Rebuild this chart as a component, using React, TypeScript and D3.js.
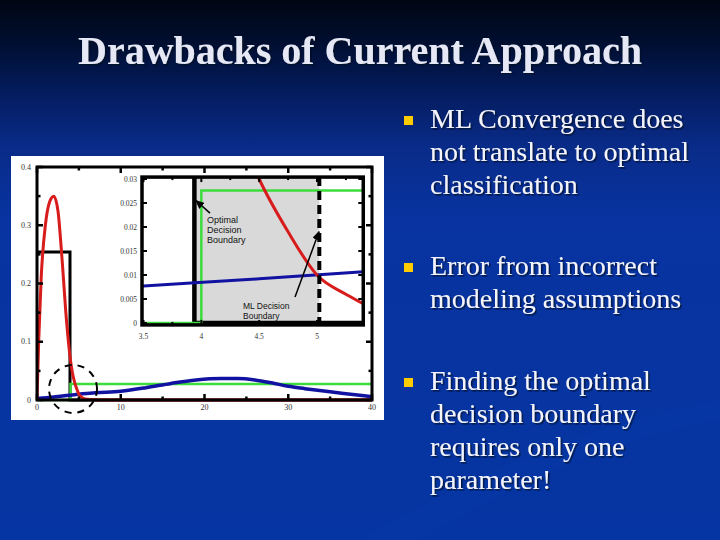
import React from 'react';
import * as d3 from 'd3';

// ---------- data ----------
const titleText = 'Drawbacks of Current Approach';
const bulletGroups: string[][] = [
  ['ML Convergence does', 'not translate to optimal', 'classification'],
  ['Error from incorrect', 'modeling assumptions'],
  ['Finding the optimal', 'decision boundary', 'requires only one', 'parameter!'],
];

// main plot axes
const mainXTicks = [0, 10, 20, 30, 40];
const mainXMinor = [5, 15, 25, 35];
const mainYTicks = [0, 0.1, 0.2, 0.3, 0.4];
const mainYMinor = [0.05, 0.15, 0.25, 0.35];

// inset axes
const insetXTicks = [3.5, 4, 4.5, 5];
const insetXMinor = [3.75, 4.25, 4.75, 5.25];
const insetYTicks = [0, 0.005, 0.01, 0.015, 0.02, 0.025, 0.03];

// red: class-1 Gaussian model
const redX = [0, 0.2, 0.5, 1, 1.5, 2, 2.5, 3, 3.5, 4, 4.25, 4.5, 4.75, 5, 5.25, 5.5, 6, 7, 8, 40];
const redY = [0, 0.1, 0.21, 0.3, 0.34, 0.35, 0.325, 0.24, 0.14, 0.068, 0.045, 0.03, 0.019, 0.01, 0.006, 0.003, 0.0012, 0.0003, 0, 0];

// blue: class-2 Gaussian model
const blueX = [0, 2, 3.5, 4.5, 5.4, 7, 10, 13, 16, 19, 22, 24, 26, 28, 30, 32, 35, 38, 40];
const blueY = [0.0025, 0.0052, 0.0077, 0.0092, 0.0107, 0.0125, 0.015, 0.021, 0.0285, 0.0345, 0.037, 0.037, 0.0345, 0.0295, 0.0235, 0.0195, 0.014, 0.009, 0.0055];

// black: class-1 true (uniform) density
const blackX = [0, 3.94, 40];
const blackY = [0.254, 0, 0];

// green: class-2 true (uniform) density
const greenX = [0, 4.0, 40];
const greenY = [0, 0.0276, 0.0276];

const optimalBoundary = 3.94;
const mlBoundary = 5.02;
const circleCenter: [number, number] = [4.3, 0.019];

const optimalArrow = { from: [4.075, 0.0229], to: [3.954, 0.0255] };
const mlArrow = { from: [4.81, 0.0054], to: [5.017, 0.019] };
const optimalLabel = ['Optimal', 'Decision', 'Boundary'];
const mlLabel = ['ML Decision', 'Boundary'];

// ---------- helpers ----------
const fmt = (v: number) => String(+v.toFixed(3));

function mkLine(xs: number[], ys: number[], xS: any, yS: any, curve: any) {
  return d3
    .line<number>()
    .x((i) => xS(xs[i]))
    .y((i) => yS(ys[i]))
    .curve(curve)(xs.map((_, i) => i)) as string;
}

export default function App() {
  const W = 720;
  const H = 540;

  // main plot scales
  const xM = d3.scaleLinear().domain([0, 40]).range([37, 372]);
  const yM = d3.scaleLinear().domain([0, 0.4]).range([400, 167]);

  // inset scales
  const xI = d3.scaleLinear().domain([3.5, 5]).range([143.5, 317]);
  const yI = d3.scaleLinear().domain([0, 0.03]).range([323, 179]);
  const inL = xI(3.5) - 1.5;
  const inR = xI(5.4);
  const inT = yI(0.0304);
  const inB = yI(-0.0004);

  const serif = '"Liberation Serif", "Times New Roman", serif';
  const sans = '"Liberation Sans", Arial, sans-serif';

  const bulletBase = [128, 275, 390];
  const lineGap = 33;

  return (
    <svg
      width={W}
      height={H}
      viewBox={`0 0 ${W} ${H}`}
      style={{ position: 'fixed', left: 0, top: 0 }}
    >
      <defs>
        <linearGradient id="bg" x1="0" y1="0" x2="0" y2="1">
          <stop offset="0" stopColor="#000612" />
          <stop offset="0.08" stopColor="#000e30" />
          <stop offset="0.17" stopColor="#041c5e" />
          <stop offset="0.27" stopColor="#092b88" />
          <stop offset="0.4" stopColor="#0833a0" />
          <stop offset="1" stopColor="#0535a2" />
        </linearGradient>
        <filter id="shadow" x="-5%" y="-20%" width="110%" height="150%">
          <feDropShadow dx="1.5" dy="1.5" stdDeviation="0.6" floodColor="#000820" floodOpacity="0.75" />
        </filter>
        <clipPath id="mainClip">
          <rect x={xM(0)} y={yM(0.4)} width={xM(40) - xM(0)} height={yM(0) - yM(0.4) + 2} />
        </clipPath>
        <clipPath id="insetClip">
          <rect x={inL} y={inT} width={inR - inL} height={inB - inT} />
        </clipPath>
        <marker
          id="arrow"
          markerUnits="userSpaceOnUse"
          markerWidth={9}
          markerHeight={8}
          refX={8}
          refY={4}
          orient="auto"
        >
          <path d="M0,0 L9,4 L0,8 Z" fill="#000" />
        </marker>
      </defs>

      {/* background */}
      <rect x={0} y={0} width={W} height={H} fill="url(#bg)" />
      <path
        d="M360,540 C480,470 600,420 720,400 L720,420 C610,440 500,490 420,540 Z"
        fill="#0a3aa8"
        opacity={0.35}
      />

      {/* title */}
      <text
        x={W / 2}
        y={64}
        textAnchor="middle"
        fontFamily={serif}
        fontWeight="bold"
        fontSize={40}
        fill="#e6e8f6"
        textLength={564}
        lengthAdjust="spacingAndGlyphs"
        filter="url(#shadow)"
      >
        {titleText}
      </text>

      {/* bullets */}
      {bulletGroups.map((lines, g) => (
        <g key={g}>
          <rect x={404} y={bulletBase[g] - 12} width={9} height={9} fill="#ffcc00" />
          {lines.map((t, i) => (
            <text
              key={i}
              x={430}
              y={bulletBase[g] + i * lineGap}
              fontFamily={serif}
              fontSize={28}
              fill="#f4f4fc"
              filter="url(#shadow)"
            >
              {t}
            </text>
          ))}
        </g>
      ))}

      {/* chart panel */}
      <rect x={11} y={156} width={373} height={264} fill="#ffffff" />

      {/* ---- main plot ---- */}
      <g clipPath="url(#mainClip)">
        <path d={mkLine(blackX, blackY, xM, yM, d3.curveStepAfter)} fill="none" stroke="#000" strokeWidth={3} />
        <path d={mkLine(greenX, greenY, xM, yM, d3.curveStepAfter)} fill="none" stroke="#3cdc3c" strokeWidth={2.5} />
        <path d={mkLine(blueX, blueY, xM, yM, d3.curveMonotoneX)} fill="none" stroke="#1212a2" strokeWidth={3.5} />
        <path d={mkLine(redX, redY, xM, yM, d3.curveMonotoneX)} fill="none" stroke="#d81c1c" strokeWidth={3} />
      </g>
      {/* main frame */}
      <rect
        x={xM(0)}
        y={yM(0.4)}
        width={xM(40) - xM(0)}
        height={yM(0) - yM(0.4)}
        fill="none"
        stroke="#000"
        strokeWidth={3}
      />
      {mainXTicks.concat(mainXMinor).map((v) => {
        const len = mainXTicks.includes(v) ? 6 : 3.5;
        return (
          <g key={'mx' + v} stroke="#000" strokeWidth={2.5}>
            <line x1={xM(v)} x2={xM(v)} y1={yM(0)} y2={yM(0) - len} />
            <line x1={xM(v)} x2={xM(v)} y1={yM(0.4)} y2={yM(0.4) + len} />
          </g>
        );
      })}
      {mainYTicks.concat(mainYMinor).map((v) => {
        const len = mainYTicks.includes(v) ? 6 : 3.5;
        return (
          <g key={'my' + v} stroke="#000" strokeWidth={2.5}>
            <line x1={xM(0)} x2={xM(0) + len} y1={yM(v)} y2={yM(v)} />
            <line x1={xM(40)} x2={xM(40) - len} y1={yM(v)} y2={yM(v)} />
          </g>
        );
      })}
      {mainYTicks.map((v) => (
        <text
          key={'myl' + v}
          x={xM(0) - 6}
          y={yM(v) + 2.5}
          textAnchor="end"
          fontFamily={serif}
          fontSize={8}
          fill="#333"
        >
          {fmt(v)}
        </text>
      ))}
      {mainXTicks.map((v) => (
        <text
          key={'mxl' + v}
          x={xM(v)}
          y={yM(0) + 10}
          textAnchor="middle"
          fontFamily={serif}
          fontSize={8}
          fill="#333"
        >
          {fmt(v)}
        </text>
      ))}
      {/* dashed circle around the region of interest */}
      <circle
        cx={xM(circleCenter[0])}
        cy={yM(circleCenter[1])}
        r={24}
        fill="none"
        stroke="#000"
        strokeWidth={2}
        strokeDasharray="7 6"
      />

      {/* ---- inset ---- */}
      <rect x={inL} y={inT} width={inR - inL} height={inB - inT} fill="#fff" />
      <g clipPath="url(#insetClip)">
        <rect
          x={xI(optimalBoundary)}
          y={inT}
          width={xI(mlBoundary) - xI(optimalBoundary)}
          height={inB - inT}
          fill="#d9d9d9"
        />
        <path d={mkLine(blackX, blackY, xI, yI, d3.curveStepAfter)} fill="none" stroke="#000" strokeWidth={4.5} />
        <path d={mkLine(greenX, greenY, xI, yI, d3.curveStepAfter)} fill="none" stroke="#3cdc3c" strokeWidth={2.5} />
        <path d={mkLine(blueX, blueY, xI, yI, d3.curveMonotoneX)} fill="none" stroke="#1212a2" strokeWidth={3} />
        <path d={mkLine(redX, redY, xI, yI, d3.curveMonotoneX)} fill="none" stroke="#d81c1c" strokeWidth={3} />
        <line
          x1={xI(mlBoundary)}
          x2={xI(mlBoundary)}
          y1={inT}
          y2={inB}
          stroke="#000"
          strokeWidth={4}
          strokeDasharray="9 5"
        />
      </g>
      <rect x={inL} y={inT} width={inR - inL} height={inB - inT} fill="none" stroke="#000" strokeWidth={3.5} />
      {insetXTicks.concat(insetXMinor).map((v) => {
        const len = insetXTicks.includes(v) ? 5 : 3;
        return (
          <g key={'ix' + v} stroke="#000" strokeWidth={2}>
            <line x1={xI(v)} x2={xI(v)} y1={inB} y2={inB - len} />
            <line x1={xI(v)} x2={xI(v)} y1={inT} y2={inT + len} />
          </g>
        );
      })}
      {insetYTicks.map((v) => (
        <g key={'iy' + v} stroke="#000" strokeWidth={2}>
          <line x1={inL} x2={inL + 5} y1={yI(v)} y2={yI(v)} />
          <line x1={inR} x2={inR - 5} y1={yI(v)} y2={yI(v)} />
        </g>
      ))}
      {insetYTicks.map((v) => (
        <text
          key={'iyl' + v}
          x={inL - 5}
          y={yI(v) + 2.5}
          textAnchor="end"
          fontFamily={serif}
          fontSize={7.5}
          fill="#333"
        >
          {fmt(v)}
        </text>
      ))}
      {insetXTicks.map((v) => (
        <text
          key={'ixl' + v}
          x={xI(v)}
          y={inB + 14}
          textAnchor="middle"
          fontFamily={serif}
          fontSize={7.5}
          fill="#333"
        >
          {fmt(v)}
        </text>
      ))}

      {/* annotations */}
      <line
        x1={xI(optimalArrow.from[0])}
        y1={yI(optimalArrow.from[1])}
        x2={xI(optimalArrow.to[0])}
        y2={yI(optimalArrow.to[1])}
        stroke="#000"
        strokeWidth={1.5}
        markerEnd="url(#arrow)"
      />
      {optimalLabel.map((t, i) => (
        <text key={'ol' + i} x={207} y={222.5 + i * 10} fontFamily={sans} fontSize={9} fill="#111">
          {t}
        </text>
      ))}
      <line
        x1={xI(mlArrow.from[0])}
        y1={yI(mlArrow.from[1])}
        x2={xI(mlArrow.to[0])}
        y2={yI(mlArrow.to[1])}
        stroke="#000"
        strokeWidth={1.5}
        markerEnd="url(#arrow)"
      />
      {mlLabel.map((t, i) => (
        <text key={'ml' + i} x={243} y={309 + i * 9.5} fontFamily={sans} fontSize={8.5} fill="#111">
          {t}
        </text>
      ))}
    </svg>
  );
}
